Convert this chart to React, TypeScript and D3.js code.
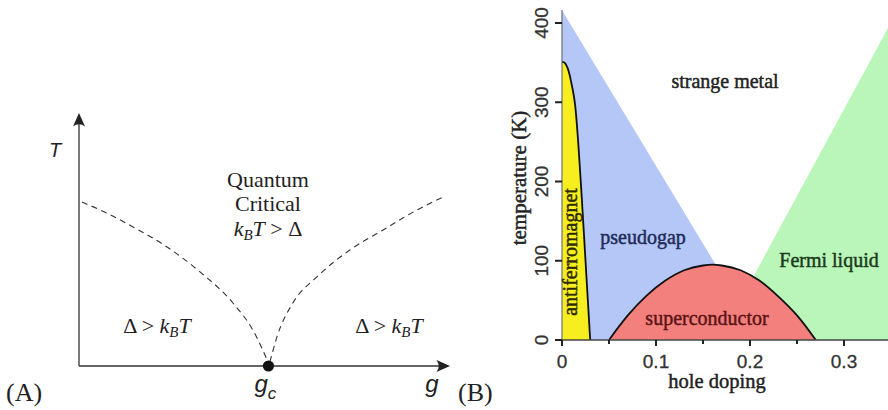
import React from "react";
import * as d3 from "d3";

// ---------- Panel A data (normalised g, T) ----------
const gcValue = 0.512;
const leftCrossover: [number, number][] = [
  [0.008, 0.653], [0.057, 0.622], [0.146, 0.554], [0.238, 0.474],
  [0.327, 0.375], [0.416, 0.251], [0.47, 0.143], [0.511, 0.016],
];
const rightCrossover: [number, number][] = [
  [0.516, 0.016], [0.535, 0.116], [0.578, 0.251], [0.643, 0.355],
  [0.732, 0.462], [0.822, 0.542], [0.914, 0.622], [0.984, 0.673],
];

// ---------- Panel B data (hole doping, temperature K) ----------
const afBoundary: [number, number][] = [
  [0, 351], [0.002, 350.5], [0.004, 348], [0.006, 343], [0.008, 335], [0.010, 324],
  [0.012, 312], [0.014, 296], [0.0175, 245], [0.021, 180], [0.025, 100], [0.03, 0],
];
const scDome: [number, number][] = [
  [0.05, 0], [0.07, 31], [0.09, 56], [0.11, 75], [0.13, 88], [0.15, 94],
  [0.16, 95], [0.17, 94], [0.19, 88], [0.21, 75], [0.23, 55], [0.25, 31], [0.27, 0],
];
const pseudogapRegion: [number, number][] = [[0, 416], [0.212, 0], [0, 0]];
const fermiRegion: [number, number][] = [[0.167, 0], [0.368, 440], [0.4, 440], [0.4, 0]];
const xMajorTicks = [0, 0.1, 0.2, 0.3];
const xMinorTicks = [0.05, 0.15, 0.25];
const yTicks = [0, 100, 200, 300, 400];

const serif = "'Liberation Serif', 'Times New Roman', serif";
const sans = "'Liberation Sans', Arial, sans-serif";

export default function App() {
  // Panel A scales
  const xA = d3.scaleLinear().domain([0, 1]).range([79, 449]);
  const yA = d3.scaleLinear().domain([0, 1]).range([366, 115]);
  const lineA = d3
    .line<[number, number]>()
    .x((d) => xA(d[0]))
    .y((d) => yA(d[1]))
    .curve(d3.curveMonotoneX);

  // Panel B scales
  const xB = d3.scaleLinear().domain([0, 0.1]).range([562, 656]);
  const yB = d3.scaleLinear().domain([0, 400]).range([340, 23]);
  const poly = (pts: [number, number][]) =>
    "M" + pts.map((p) => `${xB(p[0])},${yB(p[1])}`).join("L") + "Z";
  const areaB = d3
    .area<[number, number]>()
    .x((d) => xB(d[0]))
    .y0(yB(0))
    .y1((d) => yB(d[1]))
    .curve(d3.curveMonotoneX);
  const lineB = d3
    .line<[number, number]>()
    .x((d) => xB(d[0]))
    .y((d) => yB(d[1]))
    .curve(d3.curveMonotoneX);

  const gcX = xA(gcValue);
  const axY = yA(0);
  const axX = xA(0);

  return (
    <svg
      width={888}
      height={410}
      style={{ position: "absolute", left: 0, top: 0, background: "#fff" }}
    >
      <defs>
        <clipPath id="clipB">
          <rect x={540} y={0} width={348} height={340} />
        </clipPath>
      </defs>

      {/* ---------------- Panel A ---------------- */}
      <g>
        <line x1={axX} y1={axY} x2={axX} y2={122} stroke="#333" strokeWidth={1.3} />
        <line x1={axX} y1={axY} x2={442} y2={axY} stroke="#333" strokeWidth={1.3} />
        <path d={`M${axX},113 L${axX + 6},126.5 Q${axX},122 ${axX - 6},126.5 Z`} fill="#222" />
        <path d={`M450,${axY} L436.5,${axY + 6} Q441,${axY} 436.5,${axY - 6} Z`} fill="#222" />

        <path d={lineA(leftCrossover) || ""} fill="none" stroke="#333" strokeWidth={1.1} strokeDasharray="6,4.5" />
        <path d={lineA(rightCrossover) || ""} fill="none" stroke="#333" strokeWidth={1.1} strokeDasharray="6,4.5" />
        <circle cx={gcX} cy={axY} r={5.6} fill="#111" />

        <text x={55} y={157} fontFamily={sans} fontStyle="italic" fontSize={20} textAnchor="middle" fill="#222">T</text>
        <text x={gcX - 3} y={392} fontFamily={sans} fontStyle="italic" fontSize={24} textAnchor="middle" fill="#222">
          g<tspan fontSize={17} dy={7}>c</tspan>
        </text>
        <text x={432} y={392} fontFamily={sans} fontStyle="italic" fontSize={24} textAnchor="middle" fill="#222">g</text>

        <g fontFamily={serif} fontSize={22} fill="#222" textAnchor="middle">
          <text x={268} y={187}>Quantum</text>
          <text x={268} y={211}>Critical</text>
          <text x={268} y={236}>
            <tspan fontStyle="italic">k</tspan>
            <tspan fontStyle="italic" fontSize={15} dy={4}>B</tspan>
            <tspan fontStyle="italic" dy={-4}>T</tspan>
            <tspan> &gt; Δ</tspan>
          </text>
          <text x={157} y={333}>
            <tspan>Δ &gt; </tspan>
            <tspan fontStyle="italic">k</tspan>
            <tspan fontStyle="italic" fontSize={15} dy={4}>B</tspan>
            <tspan fontStyle="italic" dy={-4}>T</tspan>
          </text>
          <text x={389} y={333}>
            <tspan>Δ &gt; </tspan>
            <tspan fontStyle="italic">k</tspan>
            <tspan fontStyle="italic" fontSize={15} dy={4}>B</tspan>
            <tspan fontStyle="italic" dy={-4}>T</tspan>
          </text>
        </g>
        <text x={6} y={401} fontFamily={serif} fontSize={26} fill="#222">(A)</text>
      </g>

      {/* ---------------- Panel B ---------------- */}
      <g clipPath="url(#clipB)">
        <path d={poly(pseudogapRegion)} fill="#b4c7f6" />
        <path d={poly(fermiRegion)} fill="#baf6b9" />
        <path d={areaB(afBoundary) || ""} fill="#f6ee1e" />
        <path d={areaB(scDome) || ""} fill="#f4807e" />
        <path d={lineB(afBoundary) || ""} fill="none" stroke="#111" strokeWidth={1.8} />
        <path d={lineB(scDome) || ""} fill="none" stroke="#111" strokeWidth={1.8} />
      </g>

      {/* axes */}
      <line x1={xB(0)} y1={yB(0)} x2={xB(0)} y2={10} stroke="#6b7180" strokeWidth={1.2} />
      <line x1={559} y1={yB(0)} x2={888} y2={yB(0)} stroke="#444" strokeWidth={1.6} />
      {xMajorTicks.map((t) => (
        <g key={"xm" + t}>
          <line x1={xB(t)} x2={xB(t)} y1={yB(0)} y2={yB(0) + 6} stroke="#222" strokeWidth={2} />
          <text x={xB(t)} y={368} fontFamily={sans} fontSize={19} textAnchor="middle" fill="#333" stroke="#333" strokeWidth={0.3}>
            {t === 0 ? "0" : d3.format(".1f")(t)}
          </text>
        </g>
      ))}
      {xMinorTicks.map((t) => (
        <line key={"xn" + t} x1={xB(t)} x2={xB(t)} y1={yB(0)} y2={yB(0) + 4} stroke="#222" strokeWidth={2} />
      ))}
      {yTicks.map((t) => (
        <g key={"y" + t}>
          <line x1={xB(0) - 7} x2={xB(0)} y1={yB(t)} y2={yB(t)} stroke="#222" strokeWidth={2} />
          <text
            transform={`translate(548,${yB(t)}) rotate(-90)`}
            fontFamily={sans}
            fontSize={19}
            textAnchor="middle"
            fill="#333"
            stroke="#333"
            strokeWidth={0.3}
          >
            {t}
          </text>
        </g>
      ))}

      {/* region labels */}
      <g fontFamily={serif} fontSize={20} textAnchor="middle" strokeWidth={0.45}>
        <text x={725} y={88} fill="#222" stroke="#222">strange metal</text>
        <text x={643} y={244} fill="#1e2a58" stroke="#1e2a58">pseudogap</text>
        <text x={829} y={267} fill="#1c3a1c" stroke="#1c3a1c">Fermi liquid</text>
        <text x={707} y={325} fill="#5a1414" stroke="#5a1414">superconductor</text>
        <text transform="translate(577,252) rotate(-90)" fill="#2e2a00" stroke="#2e2a00">antiferromagnet</text>
        <text transform="translate(526,178) rotate(-90)" fontSize={21} fill="#222" stroke="#222">
          temperature (K)
        </text>
        <text x={717} y={388} fontSize={20.5} fill="#222" stroke="#222">hole doping</text>
      </g>
      <text x={458} y={401} fontFamily={serif} fontSize={26} fill="#222">(B)</text>
    </svg>
  );
}
